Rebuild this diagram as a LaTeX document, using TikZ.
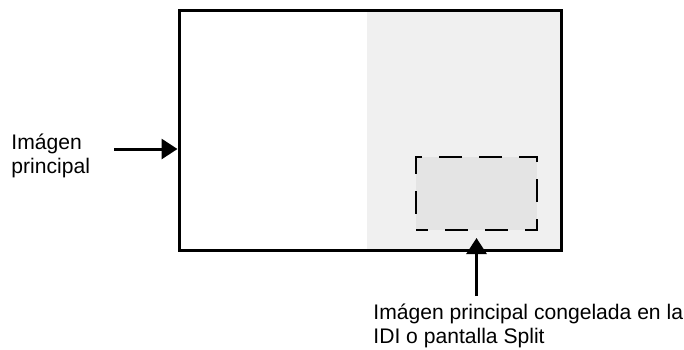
\documentclass[tikz,border=0pt]{standalone}
\usepackage{fontspec}
\setmainfont{Liberation Sans}
\usepackage{tikz}
\usetikzlibrary{positioning, arrows.meta, calc}
\tikzset{
  screenbox/.style = {draw, line width=1.5pt, fill=white, inner sep=0pt,
                      minimum width=191pt, minimum height=120pt},
  pipbox/.style    = {draw, line width=1pt, fill=gray!21, inner sep=0pt,
                      dash pattern=on 11.5pt off 8.5pt, dash phase=5.5pt,
                      minimum width=60.5pt, minimum height=36.5pt},
  lbl/.style       = {anchor=base west, inner sep=0pt, align=left,
                      font=\fontsize{10.55}{12}\selectfont},
  arr/.style       = {-{Triangle[length=8pt, width=10pt]}, line width=1.5pt}
}

\begin{document}
\begin{tikzpicture}[x=0.5pt, y=-0.5pt]

    \useasboundingbox (0,0) rectangle (684,349);

    % ── Screen with the grey right half ──────────────────────────────────
    \node[screenbox, path picture={
            \fill[gray!12] ([xshift=-1.5pt]path picture bounding box.north)
              rectangle (path picture bounding box.south east);}]
      (screen) at (370,130) {};

    % ── Frozen picture (dashed) ──────────────────────────────────────────
    \node[pipbox] (pip) at (476.5,193.5) {};

    % ── Labels (anchored on the baseline of their last line) ─────────────
    \node[lbl] (lblmain) at (11,173.5)
      {Imágen\\principal};
    \node[lbl] (lblfrozen) at (373,343.3)
      {Imágen principal congelada en la\\IDI o pantalla Split};

    % ── Arrows ───────────────────────────────────────────────────────────
    \coordinate (arrmain)   at (114,149);
    \coordinate (arrfrozen) at (476.5,296);

    \draw[arr] (arrmain) -- (screen.west |- arrmain);
    \draw[arr] (arrfrozen) -- ([yshift=-3.5pt]pip.south);

\end{tikzpicture}
\end{document}
